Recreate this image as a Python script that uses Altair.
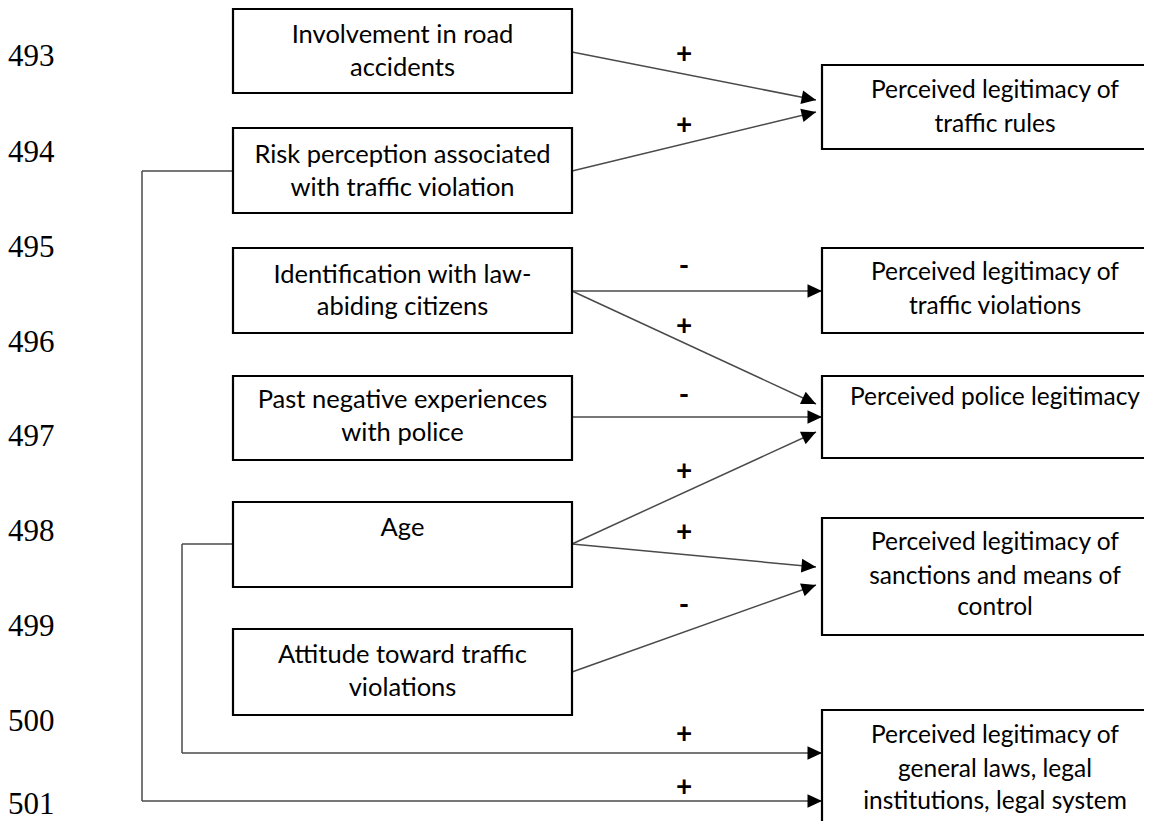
import math
import altair as alt
import pandas as pd

# ---------------- data ----------------
line_numbers = ["493", "494", "495", "496", "497", "498", "499", "500", "501"]
line_number_y = [57, 153, 248, 343, 437, 532, 627, 722, 805]
line_number_x = 8

left_box_x = [233, 572]
left_box_top = [9, 128, 248, 376, 502, 629]
left_box_bottom = [93, 213, 333, 460, 587, 715]
left_box_lines = [
    ["Involvement in road", "accidents"],
    ["Risk perception associated", "with traffic violation"],
    ["Identification with law-", "abiding citizens"],
    ["Past negative experiences", "with police"],
    ["Age"],
    ["Attitude toward traffic", "violations"],
]
left_line_y = [[35, 68], [155, 188], [275, 307], [400, 433], [528], [655, 688]]

right_box_x = [822, 1168]
right_box_top = [65, 248, 376, 518, 710]
right_box_bottom = [149, 333, 458, 635, 827]
right_box_lines = [
    ["Perceived legitimacy of", "traffic rules"],
    ["Perceived legitimacy of", "traffic violations"],
    ["Perceived police legitimacy"],
    ["Perceived legitimacy of", "sanctions and means of", "control"],
    ["Perceived legitimacy of", "general laws, legal", "institutions, legal system"],
]
right_line_y = [[91, 125], [273, 307], [398], [543, 577, 608], [736, 770, 802]]

# paths (polyline vertices), the last vertex is the arrow tip
path_points = [
    [(572, 52), (816, 100)],
    [(572, 171), (816, 112)],
    [(572, 291), (822, 291)],
    [(572, 291), (816, 404)],
    [(573, 417), (822, 417)],
    [(572, 544), (816, 432)],
    [(572, 544), (816, 567)],
    [(572, 672), (816, 585)],
    [(233, 544), (182, 544), (182, 753), (822, 753)],
    [(233, 171), (142, 171), (142, 801), (822, 801)],
]
path_signs = ["+", "+", "-", "+", "-", "+", "+", "-", "+", "+"]
sign_x = 684
sign_y = [55, 126, 267, 327, 396, 472, 533, 606, 735, 788]

# ---------------- tables ----------------
boxes = []
for t, b in zip(left_box_top, left_box_bottom):
    boxes.append({"x": left_box_x[0], "x2": left_box_x[1], "y": t, "y2": b})
for t, b in zip(right_box_top, right_box_bottom):
    boxes.append({"x": right_box_x[0], "x2": right_box_x[1], "y": t, "y2": b})
boxes = pd.DataFrame(boxes)

texts = []
for lines, ys in zip(left_box_lines, left_line_y):
    for s, y in zip(lines, ys):
        texts.append({"x": sum(left_box_x) / 2, "y": y, "t": s, "side": "left"})
for lines, ys in zip(right_box_lines, right_line_y):
    for s, y in zip(lines, ys):
        texts.append({"x": sum(right_box_x) / 2, "y": y, "t": s, "side": "right"})
texts = pd.DataFrame(texts)

segs = []
heads = []
for pts in path_points:
    for (x0, y0), (x1, y1) in zip(pts[:-1], pts[1:]):
        segs.append({"x": x0, "y": y0, "x2": x1, "y2": y1})
    (xa, ya), (xb, yb) = pts[-2], pts[-1]
    ang = math.degrees(math.atan2(yb - ya, xb - xa)) % 360
    heads.append({"x": xb, "y": yb, "angle": ang})
segs = pd.DataFrame(segs)
heads = pd.DataFrame(heads)

signs = pd.DataFrame({"x": [sign_x] * len(path_signs), "y": sign_y, "t": path_signs})
numbers = pd.DataFrame({"x": [line_number_x] * len(line_numbers), "y": line_number_y, "t": line_numbers})

# ---------------- chart ----------------
W, H = 1136, 813
xs = alt.Scale(domain=[8, 8 + W], nice=False, zero=False)
ys = alt.Scale(domain=[8, 8 + H], nice=False, zero=False, reverse=True)
X = lambda f="x": alt.X(f"{f}:Q", scale=xs, axis=None)
Y = lambda f="y": alt.Y(f"{f}:Q", scale=ys, axis=None)

box_layer = alt.Chart(boxes).mark_rect(
    fill="white", stroke="black", strokeWidth=2.2, clip=True
).encode(x=X(), x2="x2:Q", y=Y(), y2="y2:Q")

seg_layer = alt.Chart(segs).mark_rule(
    color="#4a4a4a", strokeWidth=1.5
).encode(x=X(), x2="x2:Q", y=Y(), y2="y2:Q")

head_layer = alt.Chart(heads).mark_point(
    shape="M0,0L-1,-0.47L-1,0.47Z", filled=True, color="black",
    opacity=1, strokeWidth=0, size=841
).encode(x=X(), y=Y(), angle=alt.Angle("angle:Q", scale=None))

left_text = alt.Chart(texts).transform_filter(alt.datum.side == "left").mark_text(
    font="Lato", fontSize=25.5, color="black", align="center", baseline="middle"
).encode(x=X(), y=Y(), text="t:N")

right_text = alt.Chart(texts).transform_filter(alt.datum.side == "right").mark_text(
    font="Lato", fontSize=24.5, color="black", align="center", baseline="middle"
).encode(x=X(), y=Y(), text="t:N")

sign_layer = alt.Chart(signs).mark_text(
    font="Lato", fontSize=28, fontWeight="bold", color="black",
    align="center", baseline="middle"
).encode(x=X(), y=Y(), text="t:N")

num_layer = alt.Chart(numbers).mark_text(
    font="Liberation Serif", fontSize=31, color="black",
    align="left", baseline="middle"
).encode(x=X(), y=Y(), text="t:N")

chart = alt.layer(
    seg_layer, box_layer, head_layer, left_text, right_text, sign_layer, num_layer
).properties(
    width=W, height=H, padding=0, autosize=alt.AutoSizeParams(type="none")
).configure_view(stroke=None)

chart.save("out.html", embed_options={"renderer": "svg", "actions": False})
